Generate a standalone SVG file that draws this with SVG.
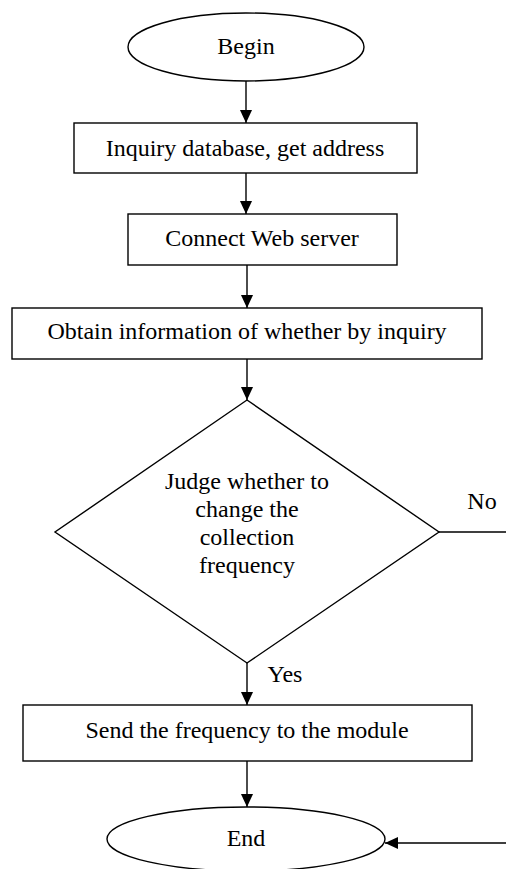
<svg xmlns="http://www.w3.org/2000/svg" width="506" height="869" viewBox="0 0 506 869">
<style>
.s{fill:#fff;stroke:#000;stroke-width:1.4}
.t{font-family:"Liberation Serif","Times New Roman",serif;font-size:24px;fill:#000;text-anchor:middle}
.c{fill:none;stroke:#000;stroke-width:1.4}
</style>
<defs>
<marker id="a" markerWidth="13" markerHeight="14" refX="14" refY="6.5" orient="auto" markerUnits="userSpaceOnUse" viewBox="0 0 14 13">
<path d="M0,0 L14,6.5 L0,13 Z" fill="#000"/>
</marker>
</defs>
<rect width="506" height="869" fill="#fff"/>
<g id="begin"><ellipse class="s" cx="246" cy="47" rx="118" ry="34"/><text class="t" x="246" y="54">Begin</text></g>
<g id="inquiry"><rect class="s" x="74" y="123" width="343" height="50"/><text class="t" x="245" y="156">Inquiry database, get address</text></g>
<g id="connect"><rect class="s" x="128" y="214" width="269" height="51"/><text class="t" x="262" y="246">Connect Web server</text></g>
<g id="obtain"><rect class="s" x="12" y="308" width="470" height="51"/><text class="t" x="247" y="339">Obtain information of whether by inquiry</text></g>
<g id="judge"><polygon class="s" points="247,400 439,532 247,663 55,532"/>
<text class="t" x="247" y="489">Judge whether to</text>
<text class="t" x="247" y="517">change the</text>
<text class="t" x="247" y="545">collection</text>
<text class="t" x="247" y="573">frequency</text></g>
<g id="send"><rect class="s" x="23" y="705" width="449" height="56"/><text class="t" x="247" y="738">Send the frequency to the module</text></g>
<g id="end"><ellipse class="s" cx="246" cy="839" rx="139" ry="32"/><text class="t" x="246" y="846">End</text></g>
<g id="connectors">
<line class="c" x1="246" y1="81" x2="246" y2="123" marker-end="url(#a)"/>
<line class="c" x1="246" y1="173" x2="246" y2="214" marker-end="url(#a)"/>
<line class="c" x1="247" y1="265" x2="247" y2="308" marker-end="url(#a)"/>
<line class="c" x1="247" y1="359" x2="247" y2="400" marker-end="url(#a)"/>
<line class="c" x1="247" y1="663" x2="247" y2="705" marker-end="url(#a)"/>
<line class="c" x1="247" y1="761" x2="247" y2="807" marker-end="url(#a)"/>
<path class="c" d="M439,532 H520 V843 H385" marker-end="url(#a)"/>
<text class="t" x="482" y="509">No</text>
<text class="t" x="285" y="682">Yes</text>
</g>
</svg>
